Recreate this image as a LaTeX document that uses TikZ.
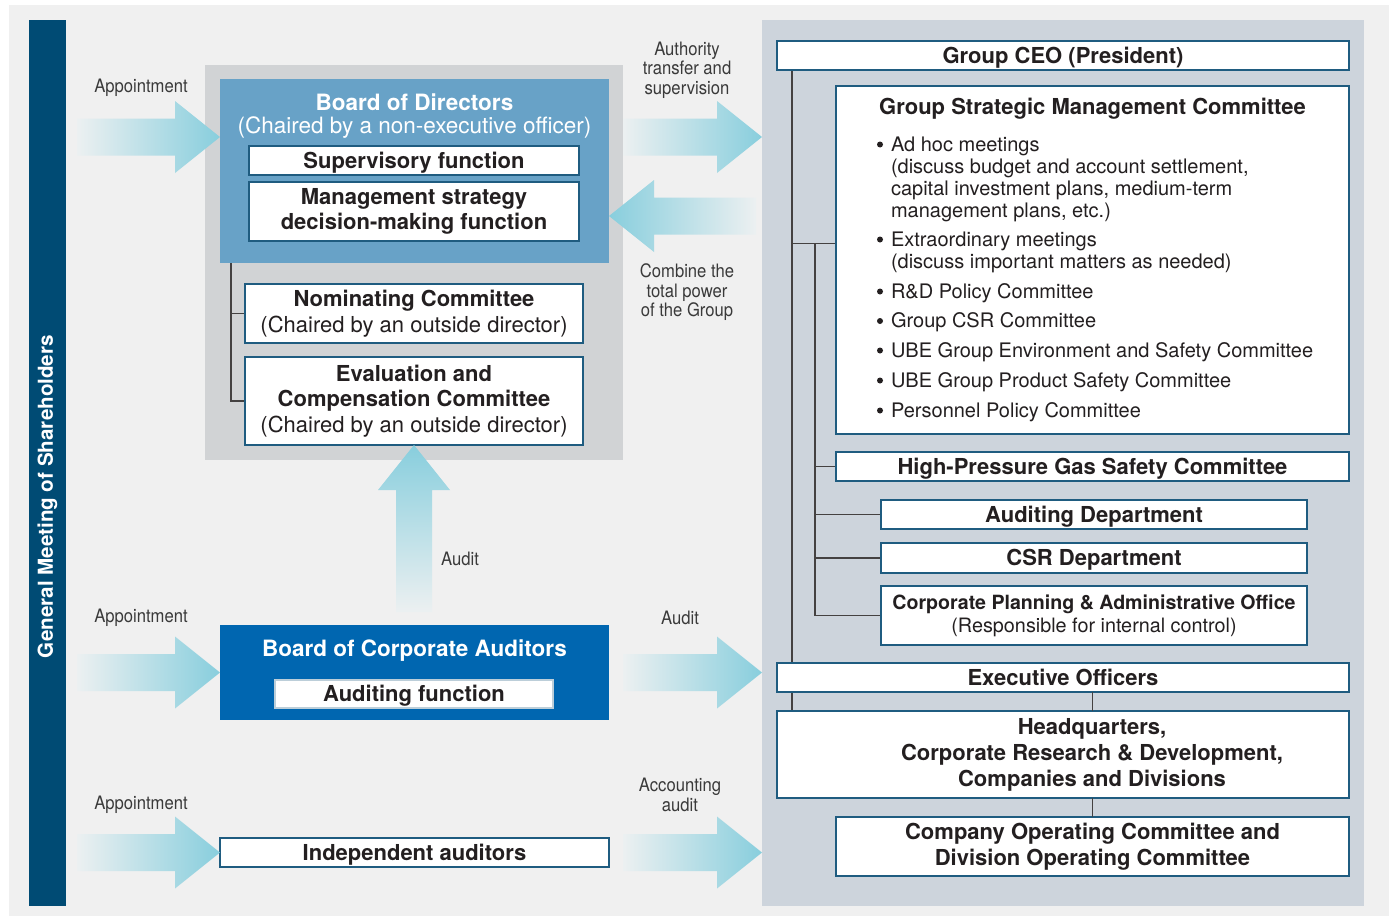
\documentclass[tikz,border=0pt]{standalone}
\usepackage{fontspec}
\setmainfont{TeX Gyre Heros}
\newfontfamily\narrowfont{TeX Gyre Heros}[FakeStretch=0.9]
\usetikzlibrary{calc}

\definecolor{pagebg}{HTML}{F0F0F0}
\definecolor{barblue}{HTML}{004B74}
\definecolor{boardbg}{HTML}{D1D3D5}
\definecolor{bodblue}{HTML}{68A2C7}
\definecolor{bcablue}{HTML}{0066B0}
\definecolor{panelbg}{HTML}{CDD4DC}
\definecolor{boxline}{HTML}{1F5C80}
\definecolor{inktext}{HTML}{231F20}
\definecolor{labelgray}{HTML}{3A3A3A}
\definecolor{arrowcyan}{HTML}{88CEDD}
\definecolor{arrowfade}{HTML}{ECF0F1}

% broad shaded arrows: #1 tail, #2 tip
\newcommand\fatright[2]{%
  \shade[left color=arrowfade, right color=arrowcyan] let \p1=(#1), \p2=(#2) in
    (\x1,\y2-18.5pt) -- (\x2-45pt,\y2-18.5pt) -- (\x2-45pt,\y2-36pt) -- (\x2,\y2)
    -- (\x2-45pt,\y2+36pt) -- (\x2-45pt,\y2+18.5pt) -- (\x1,\y2+18.5pt) -- cycle;}
\newcommand\fatleft[2]{%
  \shade[left color=arrowcyan, right color=arrowfade] let \p1=(#1), \p2=(#2) in
    (\x1,\y2-18.5pt) -- (\x2+45pt,\y2-18.5pt) -- (\x2+45pt,\y2-36pt) -- (\x2,\y2)
    -- (\x2+45pt,\y2+36pt) -- (\x2+45pt,\y2+18.5pt) -- (\x1,\y2+18.5pt) -- cycle;}
\newcommand\fatup[2]{%
  \shade[top color=arrowcyan, bottom color=arrowfade] let \p1=(#1), \p2=(#2) in
    (\x2-18pt,\y1) -- (\x2-18pt,\y2-45pt) -- (\x2-36pt,\y2-45pt) -- (\x2,\y2)
    -- (\x2+36pt,\y2-45pt) -- (\x2+18pt,\y2-45pt) -- (\x2+18pt,\y1) -- cycle;}

\begin{document}
\begin{tikzpicture}[x=1pt,y=-1pt,
  every node/.style={inner sep=0pt, outer sep=0pt},
  area/.style={rectangle, draw=none},
  wbox/.style={rectangle, draw=boxline, line width=1.8pt, fill=white},
  hdm/.style={font=\bfseries\fontsize{22}{25.5}\selectfont, text=inktext, align=center},
  hd/.style={hdm, text height=17.6pt, text depth=1.8pt},
  bl/.style={font=\fontsize{20}{22}\selectfont, text=inktext, anchor=base west},
  dot/.style={circle, fill=inktext, minimum size=6pt},
  lbl/.style={font=\narrowfont\fontsize{18.5}{19.6}\selectfont, text=labelgray, align=center},
  link/.style={draw=inktext!85, line width=1.4pt}]

\useasboundingbox (0,0) rectangle (1389,916);
\fill[pagebg] (9,5) rectangle (1389,916);

% ---- shareholders bar ----
\node[area, fill=barblue, minimum width=37pt, minimum height=886pt] (bar) at (47.5,463) {};
\node[rotate=90, font=\bfseries\fontsize{20.6}{24}\selectfont, text=white] (gms) at (47.5,496.5) {General Meeting of Shareholders};

% ---- executive panel ----
\node[area, fill=panelbg, minimum width=602pt, minimum height=886pt] (panel) at (1063,463) {};

% ---- board of directors group ----
\node[area, fill=boardbg, minimum width=418pt, minimum height=395pt] (board) at (414,262.5) {};
\node[area, fill=bodblue, minimum width=389pt, minimum height=184pt] (bod) at (414.5,171) {};
\node[anchor=base, font=\bfseries\fontsize{22.5}{26}\selectfont, text=white] (bodt) at (414.5,110) {Board of Directors};
\node[anchor=base, font=\fontsize{22.5}{26}\selectfont, text=white] (bods) at (414.5,133) {(Chaired by a non-executive officer)};
\node[wbox, minimum width=330pt, minimum height=29pt, hd] (sup) at (414,160.5) {Supervisory function};
\node[wbox, minimum width=330pt, minimum height=59pt, hdm] (mgmt) at (414,211.5) {Management strategy\\decision-making function};

% committees under the board
\draw[link] ($(bod.south west)+(11,0)$) coordinate (tr0) |- (414,401) coordinate (tr2);
\draw[link] (tr0 |- 0,313.5) -- (245,313.5);
\node[wbox, minimum width=338pt, minimum height=59pt, hdm] (nom) at (414,313.5)
  {Nominating Committee\\\mdseries\fontsize{22}{25.5}\selectfont(Chaired by an outside director)};
\node[wbox, minimum width=338pt, minimum height=88pt, hdm] (eval) at (414,401)
  {Evaluation and\\Compensation Committee\\\mdseries\fontsize{22}{25.5}\selectfont(Chaired by an outside director)};

% ---- corporate auditors ----
\node[area, fill=bcablue, minimum width=389pt, minimum height=95pt] (bca) at (414.5,672.5) {};
\node[anchor=base, font=\bfseries\fontsize{22.5}{26}\selectfont, text=white] (bcat) at (414.5,656) {Board of Corporate Auditors};
\node[wbox, draw=white!70!boxline, line width=1.2pt, minimum width=278pt, minimum height=28pt, hd] (audf) at (414,694) {Auditing function};

\node[wbox, minimum width=389pt, minimum height=29pt, hd] (indep) at (414.5,852.5) {Independent auditors};

% ---- right-hand organisation ----
\draw[link] (792,70) coordinate (ceoleg) -- (792,711);
\draw[link] (792,243.5) -- (836,243.5);
\draw[link] (815,243.5) coordinate (subleg) -- (815,615.5);
\draw[link] (815,466.5) -- (836,466.5);
\draw[link] (815,514.5) -- (881,514.5);
\draw[link] (815,558) -- (881,558);
\draw[link] (815,615.5) -- (881,615.5);

\node[wbox, minimum width=572pt, minimum height=29pt, hd] (ceo) at (1063,55.5) {Group CEO (President)};

\node[wbox, minimum width=513pt, minimum height=348pt] (gsmc) at (1092.5,260) {};
\node[anchor=base, font=\bfseries\fontsize{22}{26}\selectfont, text=inktext] (gsmct) at (1092.5,114) {Group Strategic Management Committee};
% bullet items (one node per printed line)
\foreach \yy [count=\i] in {151,246,298,327.5,357,387,417}
  \node[dot] (gd\i) at (880,\yy-6.5) {};
\foreach \yy/\txt [count=\i] in {
  151/{Ad hoc meetings},
  173/{(discuss budget and account settlement,},
  195/{capital investment plans, medium-term},
  217/{management plans, etc.)},
  246/{Extraordinary meetings},
  268/{(discuss important matters as needed)},
  298/{R\&D Policy Committee},
  327.5/{Group CSR Committee},
  357/{UBE Group Environment and Safety Committee},
  387/{UBE Group Product Safety Committee},
  417/{Personnel Policy Committee}}
  \node[bl] (gi\i) at (891,\yy) {\txt};

\node[wbox, minimum width=513pt, minimum height=29pt, hd] (hpgs) at (1092.5,466.5) {High-Pressure Gas Safety Committee};
\node[wbox, minimum width=426pt, minimum height=29pt, hd] (audd) at (1094,514.5) {Auditing Department};
\node[wbox, minimum width=426pt, minimum height=30pt, hd] (csr) at (1094,558) {CSR Department};
\node[wbox, minimum width=426pt, minimum height=59pt, hdm, font=\bfseries\fontsize{19.6}{23}\selectfont] (cpao) at (1094,615.5)
  {Corporate Planning \& Administrative Office\\\mdseries\fontsize{19.8}{23}\selectfont(Responsible for internal control)};

\node[wbox, minimum width=572pt, minimum height=29pt, hd] (eo) at (1063,677.5) {Executive Officers};
\node[wbox, minimum width=572pt, minimum height=87pt] (hq) at (1063,754.5) {};
\node[hdm, font=\bfseries\fontsize{22}{26}\selectfont] (hqt) at (1092,754.5) {Headquarters,\\Corporate Research \& Development,\\Companies and Divisions};
\node[wbox, minimum width=513pt, minimum height=59pt, hdm, font=\bfseries\fontsize{22}{26}\selectfont] (coc) at (1092.5,846.5)
  {Company Operating Committee and\\Division Operating Committee};

\draw[link] (eo.south -| coc.north) -- (hq.north -| coc.north);
\draw[link] (hq.south -| coc.north) -- (coc.north);

% ---- broad arrows ----
\coordinate (ap1) at (77,137);
\coordinate (ap2) at (77,672.5);
\coordinate (ap3) at (77,852.5);
\coordinate (cmb) at (756,216);
\coordinate (aup) at (414,612);

\fatright{ap1}{bod.west |- ap1}
\fatright{ap2}{bca.west}
\fatright{ap3}{indep.west}
\fatright{board.east |- ap1}{panel.west |- ap1}
\fatleft{cmb}{bod.east |- cmb}
\fatup{aup}{eval.south}
\fatright{board.east |- bca.east}{panel.west |- bca.east}
\fatright{board.east |- indep.east}{panel.west |- indep.east}

% ---- arrow captions ----
\node[lbl] (l1) at (141,88) {Appointment};
\node[lbl] (l2) at (141,618) {Appointment};
\node[lbl] (l3) at (141,805) {Appointment};
\node[lbl] (l4) at (687,70) {Authority\\transfer and\\supervision};
\node[lbl] (l5) at (687,292.5) {Combine the\\total power\\of the Group};
\node[lbl] (l6) at (460,559) {Audit};
\node[lbl] (l7) at (680,618) {Audit};
\node[lbl] (l8) at (680,795) {Accounting\\audit};
\end{tikzpicture}
\end{document}
